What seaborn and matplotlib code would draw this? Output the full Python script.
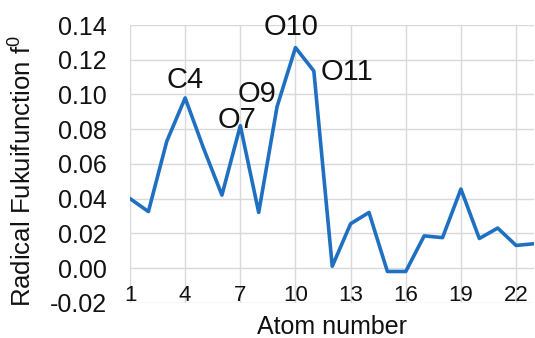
import matplotlib
matplotlib.use("Agg")
import matplotlib.pyplot as plt
import seaborn as sns
import pandas as pd

atoms = list(range(1, 24))
fukui = [0.040, 0.0325, 0.073, 0.098, 0.069, 0.042, 0.082, 0.032, 0.093, 0.127,
         0.1135, 0.001, 0.0255, 0.032, -0.002, -0.002, 0.0185, 0.0175, 0.0455,
         0.017, 0.023, 0.013, 0.014]
xtick_vals = [1, 4, 7, 10, 13, 16, 19, 22]
ytick_vals = [-0.02, 0.00, 0.02, 0.04, 0.06, 0.08, 0.10, 0.12, 0.14]
label_atoms = [4, 7, 9, 10, 11]
label_texts = ["C4", "O7", "O9", "O10", "O11"]
label_offsets = [(0, 7.2), (-2.2, -1.7), (-14.4, 3.3), (-3.2, 9.1), (23.8, -6.5)]

sns.set_theme(style="whitegrid")
plt.rcParams['font.family'] = ['Liberation Sans', 'DejaVu Sans']
plt.rcParams['mathtext.fontset'] = 'custom'
plt.rcParams['mathtext.rm'] = 'Liberation Sans'
plt.rcParams['mathtext.it'] = 'Liberation Sans'

df = pd.DataFrame({"atom": atoms, "f0": fukui})

fig = plt.figure(figsize=(5.35, 3.38), dpi=100)
ax = fig.add_axes([0.243, 0.1044, 0.756, 0.8216])
sns.lineplot(data=df, x="atom", y="f0", ax=ax, color="#1F70C1", linewidth=2.6)

ax.set_xlim(1, 23)
ax.set_ylim(-0.02, 0.14)
ax.set_xticks(xtick_vals)
ax.set_yticks(ytick_vals)
ax.set_yticklabels([f"{v:.2f}" for v in ytick_vals])
ax.grid(True, color="#d9d9d9", linewidth=1.0)
for s in ax.spines.values():
    s.set_visible(False)
ax.tick_params(axis='x', length=0, pad=-13, labelsize=16, labelcolor="#111111")
ax.tick_params(axis='y', length=0, pad=16.5, labelsize=18, labelcolor="#111111")

ax.set_xlabel("Atom number", fontsize=18, color="#111111")
ax.xaxis.set_label_coords(0.5, -0.045)
ax.set_ylabel("Radical Fukuifunction f$^{0}$", fontsize=18.5, color="#111111")
ax.yaxis.set_label_coords(-0.232, 0.474)

for a, t, off in zip(label_atoms, label_texts, label_offsets):
    ax.annotate(t, xy=(a, fukui[a - 1]), xytext=off, textcoords='offset points',
                ha='center', va='baseline', fontsize=21, color="#111111")

fig.savefig("out.png", dpi=100)
